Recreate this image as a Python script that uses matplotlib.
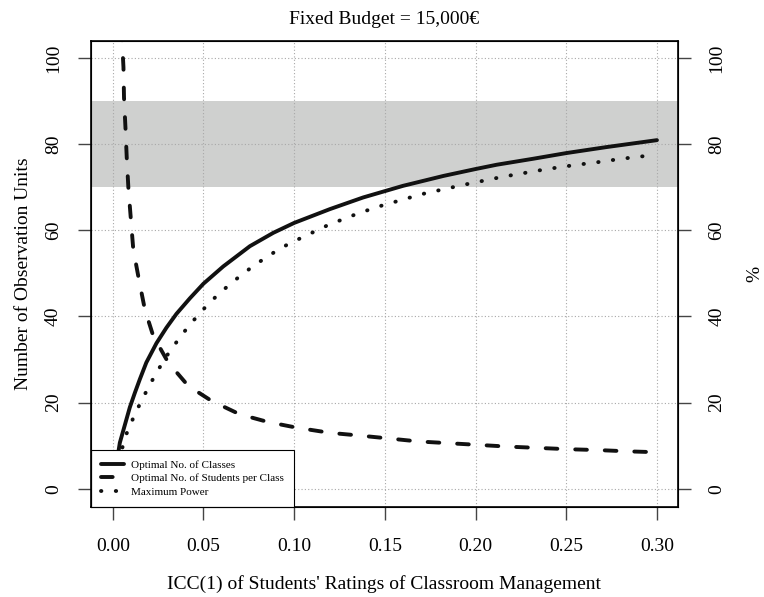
import numpy as np
import matplotlib
matplotlib.use("Agg")
import matplotlib.pyplot as plt

plt.rcParams['font.family'] = ['Liberation Serif', 'DejaVu Serif']

# ICC values and curves
icc_classes = [0.001, 0.0039, 0.0094, 0.0122, 0.0149, 0.0185, 0.0241, 0.0296, 0.0351,
               0.0425, 0.05, 0.0609, 0.0756, 0.0885, 0.10, 0.1197, 0.138, 0.16,
               0.1823, 0.20, 0.2117, 0.232, 0.25, 0.2723, 0.30]
n_classes = [3.0, 10.7, 18.9, 22.3, 25.4, 29.3, 33.8, 37.4, 40.6,
             44.2, 47.6, 51.6, 56.3, 59.4, 61.7, 64.9, 67.6, 70.3,
             72.6, 74.2, 75.2, 76.6, 77.9, 79.3, 80.9]

icc_students = [0.004, 0.0052, 0.0059, 0.0062, 0.0070, 0.0077, 0.0086, 0.0098, 0.0113,
                0.0144, 0.0177, 0.0223, 0.0306, 0.0416, 0.0545, 0.070, 0.0857, 0.1014,
                0.1197, 0.1353, 0.152, 0.1685, 0.185, 0.2015, 0.218, 0.2346, 0.2511,
                0.2676, 0.2842, 0.30]
n_students = [125.0, 103.5, 97.8, 90.8, 83.8, 76.9, 69.9, 63.5, 55.6,
              48.6, 41.6, 35.5, 29.3, 23.9, 20.4, 17.3, 15.5, 14.2,
              13.0, 12.4, 11.7, 11.0, 10.6, 10.2, 9.8, 9.5, 9.2,
              9.0, 8.7, 8.5]

icc_power = [0.001, 0.0071, 0.0103, 0.0138, 0.0175, 0.0214, 0.0256, 0.0300, 0.0347,
             0.0397, 0.045, 0.0505, 0.0564, 0.0625, 0.0688, 0.0756, 0.0824, 0.0894,
             0.0968, 0.1197, 0.1267, 0.1346, 0.1423, 0.1504, 0.1583, 0.1664, 0.1743,
             0.1826, 0.1907, 0.1987, 0.2068, 0.2149, 0.2231, 0.2312, 0.2395, 0.2478,
             0.2559, 0.2642, 0.2725, 0.2808, 0.289, 0.2971]
max_power = [3.0, 12.3, 15.5, 18.7, 21.8, 24.9, 28.0, 31.0, 33.8,
             36.6, 39.3, 41.9, 44.4, 46.7, 48.9, 51.1, 53.1, 55.0,
             56.8, 61.4, 62.5, 63.8, 64.9, 66.0, 66.9, 67.9, 68.8,
             69.5, 70.3, 71.0, 71.7, 72.4, 73.0, 73.6, 74.2, 74.7,
             75.2, 75.6, 76.1, 76.6, 77.0, 77.4]

band = (70, 90)
x_ticks = [0.00, 0.05, 0.10, 0.15, 0.20, 0.25, 0.30]
y_ticks = [0, 20, 40, 60, 80, 100]

fig = plt.figure(figsize=(7.64, 5.97), dpi=100)
ax = fig.add_axes([0.1191, 0.1508, 0.7683, 0.7805])

ax.axhspan(band[0], band[1], color='#cfd0cf', lw=0, zorder=0)
for xt in x_ticks:
    ax.axvline(xt, color='#a8a8a8', lw=0.8, ls=(0, (1, 2)), zorder=1)
for yt in y_ticks:
    ax.axhline(yt, color='#a8a8a8', lw=0.8, ls=(0, (1, 2)), zorder=1)

lw = 2.8
ax.plot(icc_classes, n_classes, color='#111111', lw=lw, solid_capstyle='round',
        solid_joinstyle='round', label='Optimal No. of Classes', zorder=3)
ax.plot(icc_students, n_students, color='#111111', lw=lw, dashes=(3.0, 4.6),
        dash_capstyle='round', label='Optimal No. of Students per Class', zorder=3)
ax.plot(icc_power, max_power, color='#111111', lw=lw, dashes=(0.1, 3.7),
        dash_capstyle='round', label='Maximum Power', zorder=3)

ax.set_xlim(-0.012, 0.3116)
ax.set_ylim(-4.2, 103.9)
ax.set_xticks(x_ticks)
ax.set_xticklabels([f"{v:.2f}" for v in x_ticks])
ax.set_yticks(y_ticks)
ax.set_yticklabels([str(v) for v in y_ticks], rotation=90, va='center')
ax.tick_params(axis='both', length=9.5, width=1, color='#444444', labelsize=14)
ax.tick_params(axis='x', pad=13)
ax.tick_params(axis='y', pad=11.5)
for s in ax.spines.values():
    s.set_linewidth(1.2)

ax2 = ax.twinx()
ax2.set_ylim(ax.get_ylim())
ax2.set_yticks(y_ticks)
ax2.set_yticklabels([str(v) for v in y_ticks], rotation=90, va='center')
ax2.tick_params(axis='y', length=9.5, width=1, color='#444444', labelsize=14, pad=12.5)
ax2.set_ylabel('%', fontsize=14, labelpad=15)

ax.set_title('Fixed Budget = 15,000\u20ac', fontsize=14, pad=12.5)
ax.set_xlabel("ICC(1) of Students' Ratings of Classroom Management", fontsize=14, labelpad=14)
ax.set_ylabel('Number of Observation Units', fontsize=14, labelpad=9)

leg = ax.legend(loc='lower left', bbox_to_anchor=(0, 0), borderaxespad=0, fontsize=8,
                fancybox=False, edgecolor='black', framealpha=1, handlelength=2.1,
                handletextpad=0.6, borderpad=0.9, labelspacing=0.35)
leg.get_frame().set_linewidth(0.8)
leg.set_zorder(5)

fig.savefig('out.png', dpi=100)
